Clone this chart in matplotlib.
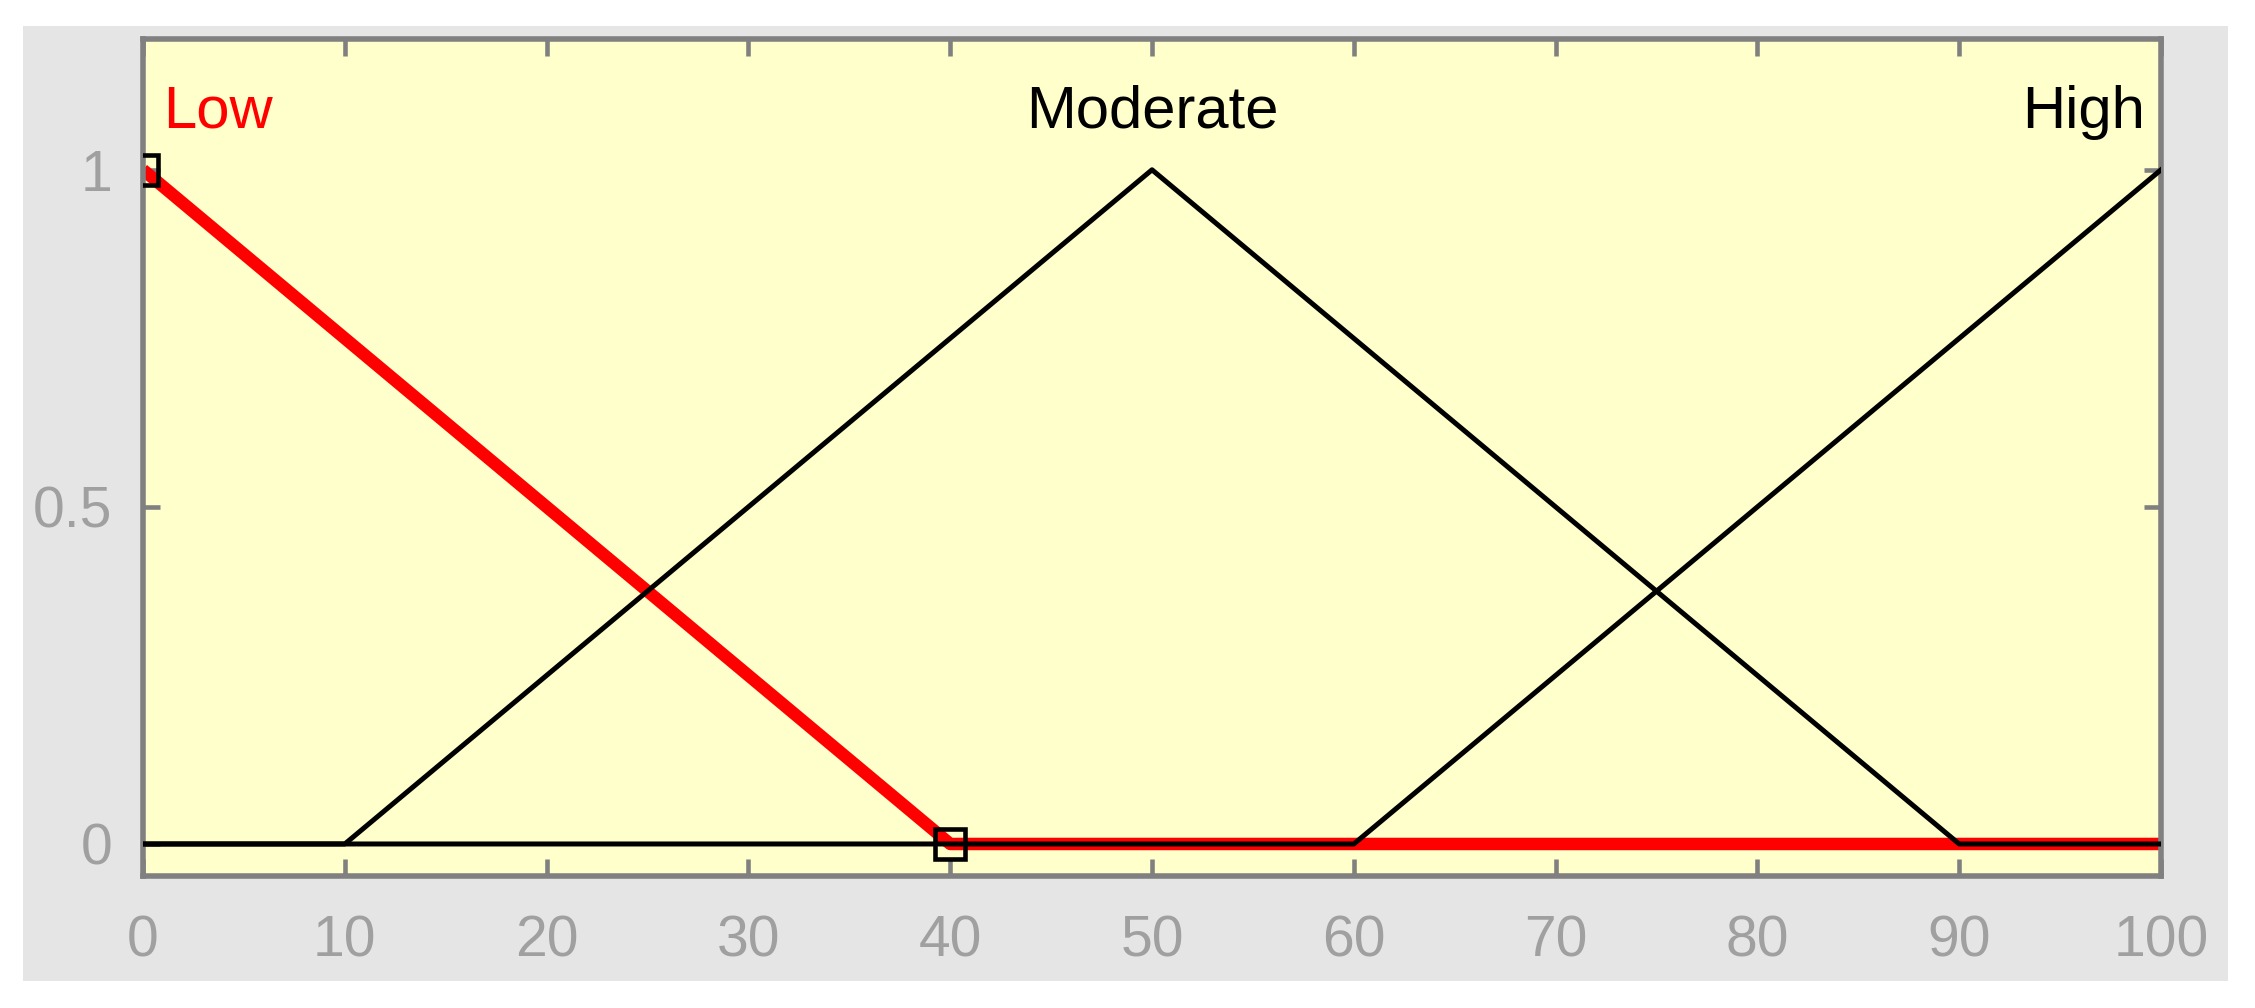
import matplotlib
matplotlib.use('Agg')
import matplotlib.pyplot as plt
from matplotlib.patches import Rectangle

# membership functions, x breakpoints and membership values
low_x = [0, 40, 100]
low_y = [1, 0, 0]
moderate_x = [0, 10, 50, 90, 100]
moderate_y = [0, 0, 1, 0, 0]
high_x = [0, 60, 100]
high_y = [0, 0, 1]
marker_x = [0, 40]
marker_y = [1, 0]

labels = ['Low', 'Moderate', 'High']
label_x = [1.0, 50, 99.2]
label_colors = ['red', 'black', 'black']
label_ha = ['left', 'center', 'right']
xticks = list(range(0, 101, 10))
yticks = [0, 0.5, 1]
ytick_labels = ['0', '0.5', '1']

plt.rcParams['font.family'] = ['Liberation Sans', 'DejaVu Sans']

fig = plt.figure(figsize=(22.55, 10.08), dpi=100)
fig.patch.set_facecolor('white')
fig.patches.append(Rectangle((23 / 2255, 1 - 981 / 1008), (2228 - 23) / 2255, (981 - 26) / 1008,
                             transform=fig.transFigure, facecolor='#e5e5e5', edgecolor='none', zorder=-10))

ax = fig.add_axes([143 / 2255, 1 - 876 / 1008, (2161 - 143) / 2255, (876 - 39) / 1008])
ax.set_zorder(1)
ax.set_facecolor('#ffffcc')

ax.plot(low_x, low_y, color='red', lw=9, zorder=2, solid_capstyle='butt')
ax.plot(moderate_x, moderate_y, color='black', lw=3.6, zorder=3)
ax.plot(high_x, high_y, color='black', lw=3.6, zorder=3)
ax.plot(marker_x, marker_y, ls='none', marker='s', ms=21, mfc='none', mec='black', mew=3.3, zorder=4)

for lab, lx, c, ha in zip(labels, label_x, label_colors, label_ha):
	ax.text(lx, 1.062, lab, color=c, ha=ha, va='baseline', fontsize=43)

ax.set_xlim(0, 100)
ax.set_ylim(-0.0475, 1.194)
ax.set_xticks(xticks)
ax.set_yticks(yticks)
ax.set_yticklabels(ytick_labels)
ax.tick_params(direction='in', length=12, width=3.3, color='#808080', labelcolor='#a0a0a0',
               labelsize=41, top=True, right=True)
ax.tick_params(axis='x', pad=28)
ax.tick_params(axis='y', pad=22)
for s in ax.spines.values():
	s.set_color('#808080')
	s.set_linewidth(4)

fig.savefig('out.png', dpi=100)
